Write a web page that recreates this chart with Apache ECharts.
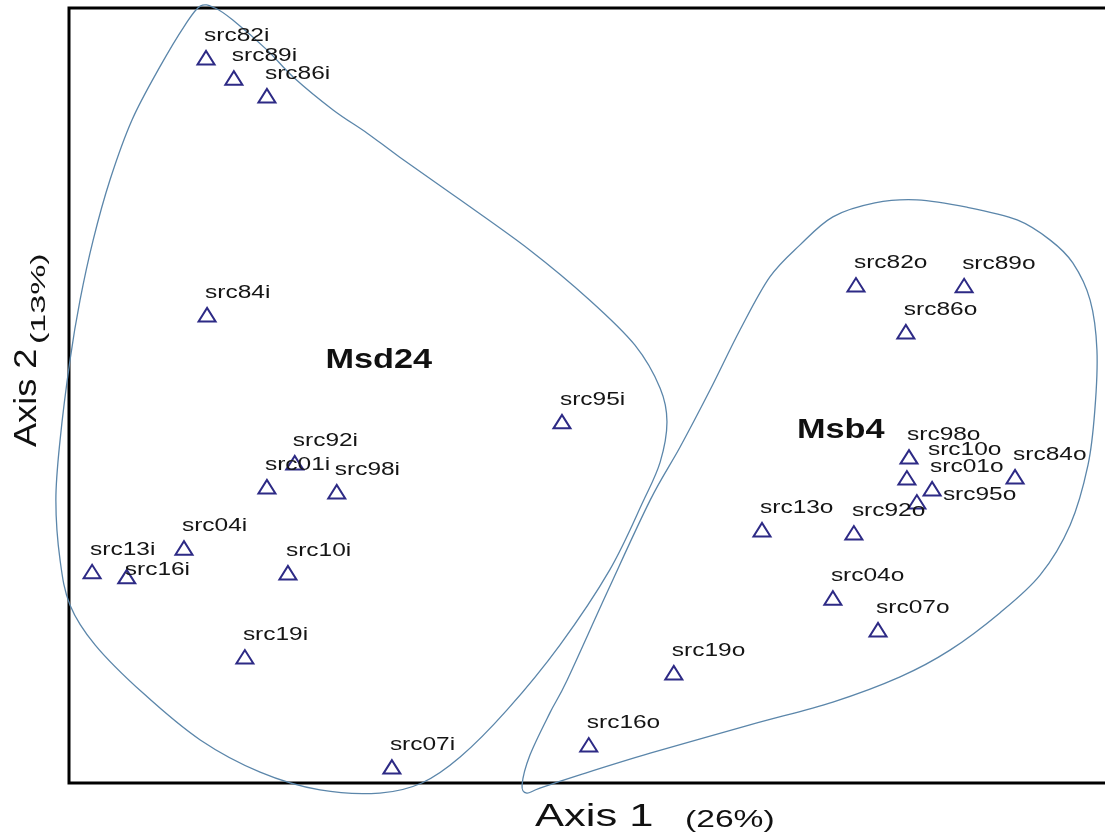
<!DOCTYPE html>
<html>
<head>
<meta charset="utf-8">
<script src="https://cdn.jsdelivr.net/npm/echarts@6/dist/echarts.min.js"></script>
<style>
  html, body { margin: 0; padding: 0; background: #fff; }
  #chart { width: 1105px; height: 837px; }
</style>
</head>
<body>
<div id="chart"></div>
<script>
// Ordination scores of the samples (Axis 1, Axis 2)
const sampleNames = [
  'src82i', 'src89i', 'src86i', 'src84i', 'src95i', 'src92i', 'src01i',
  'src98i', 'src04i', 'src13i', 'src16i', 'src10i', 'src19i', 'src07i',
  'src82o', 'src89o', 'src86o', 'src98o', 'src10o', 'src01o', 'src95o',
  'src84o', 'src13o', 'src92o', 'src04o', 'src07o', 'src19o', 'src16o'
];
const axis1Scores = [
  -0.739, -0.686, -0.623, -0.737, -0.061, -0.570, -0.623,
  -0.490, -0.781, -0.956, -0.890, -0.583, -0.665, -0.385,
   0.499,  0.705,  0.594,  0.600,  0.596,  0.644,  0.615,
   0.802,  0.320,  0.495,  0.455,  0.541,  0.152, -0.010
];
const axis2Scores = [
   0.871,  0.819,  0.773,  0.208, -0.068, -0.174, -0.236,
  -0.249, -0.394, -0.455, -0.468, -0.458, -0.675, -0.959,
   0.285,  0.283,  0.164, -0.159, -0.213, -0.241, -0.275,
  -0.210, -0.347, -0.355, -0.523, -0.605, -0.716, -0.902
];

// Group envelopes (closed outlines, Axis 1 / Axis 2 units)
const groupNames = ['Msd24', 'Msb4'];
const msd24OutlineX = [
  -0.750, -0.722, -0.688, -0.623, -0.573, -0.497, -0.432, -0.370, -0.255, -0.122,
  -0.008,  0.078,  0.126,  0.139,  0.126,  0.093,  0.030, -0.065, -0.166, -0.255,
  -0.328, -0.408, -0.522, -0.636, -0.750, -0.859, -0.950, -0.998, -1.017, -1.025,
  -1.017, -0.998, -0.979, -0.954, -0.922, -0.880, -0.827, -0.779
];
const msd24OutlineY = [
   1.005,  1.000,  0.969,  0.892,  0.822,  0.737,  0.677,  0.615,  0.505,  0.375,
   0.246,  0.130,  0.019, -0.068, -0.172, -0.275, -0.450, -0.644, -0.812, -0.933,
  -1.000, -1.026, -1.018, -0.972, -0.889, -0.768, -0.644, -0.541, -0.425, -0.270,
  -0.115,  0.092,  0.246,  0.401,  0.556,  0.711,  0.848,  0.956
];
const msb4OutlineX = [
   0.615,  0.710,  0.806,  0.869,  0.912,  0.945,  0.958,  0.954,  0.941,  0.907,
   0.850,  0.773,  0.678,  0.583,  0.455,  0.297,  0.107, -0.027, -0.103, -0.128,
  -0.137, -0.122, -0.084, -0.051,  0.027,  0.107,  0.164,  0.221,  0.278,  0.335,
   0.392,  0.455,  0.535
];
const msb4OutlineY = [
   0.505,  0.486,  0.453,  0.401,  0.342,  0.246,  0.117, -0.037, -0.179, -0.334,
  -0.463, -0.561, -0.657, -0.726, -0.791, -0.850, -0.923, -0.979, -1.013, -1.026,
  -1.005, -0.928, -0.819, -0.734, -0.502, -0.270, -0.133,  0.014,  0.169,  0.306,
   0.388,  0.461,  0.497
];
const groupLabelX = [-0.41, 0.47];
const groupLabelY = [0.09, -0.09];

// Axis titles
const axis1Title = 'Axis 1';
const axis1Share = '(26%)';
const axis2Title = 'Axis 2';
const axis2Share = '(13%)';

// Label nudges (px) for crowded points
const labelNudge = {
  src10o: [23, -6],
  src95o: [28, 15],
  src16i: [0, 15]
};

const outlines = [
  msd24OutlineX.map((x, i) => [x, msd24OutlineY[i]]),
  msb4OutlineX.map((x, i) => [x, msb4OutlineY[i]])
];

const LABEL_FONT = '18px "Liberation Sans", Arial, sans-serif';
const STRETCH = 1.36;

// closed Catmull-Rom spline through the projected outline points
function closedSplinePath(pts) {
  const n = pts.length;
  let d = 'M' + pts[0][0] + ',' + pts[0][1];
  for (let i = 0; i < n; i++) {
    const p0 = pts[(i - 1 + n) % n], p1 = pts[i], p2 = pts[(i + 1) % n], p3 = pts[(i + 2) % n];
    const c1x = p1[0] + (p2[0] - p0[0]) / 6, c1y = p1[1] + (p2[1] - p0[1]) / 6;
    const c2x = p2[0] - (p3[0] - p1[0]) / 6, c2y = p2[1] - (p3[1] - p1[1]) / 6;
    d += 'C' + c1x + ',' + c1y + ',' + c2x + ',' + c2y + ',' + p2[0] + ',' + p2[1];
  }
  return d + 'Z';
}

const chart = echarts.init(document.getElementById('chart'), null, { renderer: 'canvas' });

const option = {
  backgroundColor: '#fff',
  animation: false,
  grid: {
    left: 69, top: 8, width: 1050, height: 775,
    outerBoundsMode: 'none', containLabel: false,
    show: true, borderColor: '#000', borderWidth: 3, backgroundColor: 'transparent'
  },
  xAxis: {
    type: 'value', min: -1, max: 1,
    axisLine: { show: false }, axisTick: { show: false },
    axisLabel: { show: false }, splitLine: { show: false }
  },
  yAxis: {
    type: 'value', min: -1, max: 1,
    axisLine: { show: false }, axisTick: { show: false },
    axisLabel: { show: false }, splitLine: { show: false }
  },
  series: [
    {
      type: 'custom',
      name: 'outlines',
      data: groupNames.map((g, i) => [groupLabelX[i], groupLabelY[i], i]),
      clip: false,
      z: 1,
      renderItem: function (params, api) {
        const idx = params.dataIndex;
        const pts = outlines[idx].map(p => api.coord(p));
        const c = api.coord([api.value(0), api.value(1)]);
        return {
          type: 'group',
          children: [
            {
              type: 'path',
              shape: { pathData: closedSplinePath(pts) },
              style: { fill: null, stroke: '#5b86aa', lineWidth: 1.3 }
            },
            {
              type: 'text',
              x: c[0], y: c[1], scaleX: 1.27,
              style: {
                text: groupNames[idx],
                font: 'bold 27px "Liberation Sans", Arial, sans-serif',
                fill: '#111', align: 'center', verticalAlign: 'middle'
              }
            }
          ]
        };
      }
    },
    {
      type: 'custom',
      name: 'samples',
      data: axis1Scores.map((x, i) => [x, axis2Scores[i]]),
      clip: false,
      z: 3,
      renderItem: function (params, api) {
        const name = sampleNames[params.dataIndex];
        const p = api.coord([api.value(0), api.value(1)]);
        const nudge = labelNudge[name] || [0, 0];
        return {
          type: 'group',
          children: [
            {
              type: 'polygon',
              shape: { points: [[p[0] - 8.5, p[1] + 6.5], [p[0] + 8.5, p[1] + 6.5], [p[0], p[1] - 7]] },
              style: { fill: null, stroke: '#2d2a85', lineWidth: 2 }
            },
            {
              type: 'text',
              x: p[0] - 2 + nudge[0], y: p[1] - 22 + nudge[1], scaleX: STRETCH,
              style: {
                text: name, font: LABEL_FONT, fill: '#151515',
                align: 'left', verticalAlign: 'middle'
              }
            }
          ]
        };
      }
    }
  ],
  graphic: [
    {
      type: 'text', x: 535, y: 817, scaleX: 1.36,
      style: { text: axis1Title, font: '32px "Liberation Sans", Arial, sans-serif', fill: '#111', align: 'left', verticalAlign: 'middle' }
    },
    {
      type: 'text', x: 685, y: 820, scaleX: 1.4,
      style: { text: axis1Share, font: '24px "Liberation Sans", Arial, sans-serif', fill: '#111', align: 'left', verticalAlign: 'middle' }
    },
    {
      type: 'text', x: 27, y: 447, rotation: Math.PI / 2, scaleX: 1.13,
      style: { text: axis2Title, font: '32px "Liberation Sans", Arial, sans-serif', fill: '#111', align: 'left', verticalAlign: 'middle' }
    },
    {
      type: 'text', x: 39, y: 344, rotation: Math.PI / 2, scaleX: 1.7,
      style: { text: axis2Share, font: '20px "Liberation Sans", Arial, sans-serif', fill: '#111', align: 'left', verticalAlign: 'middle' }
    }
  ]
};

chart.setOption(option);
</script>
</body>
</html>
